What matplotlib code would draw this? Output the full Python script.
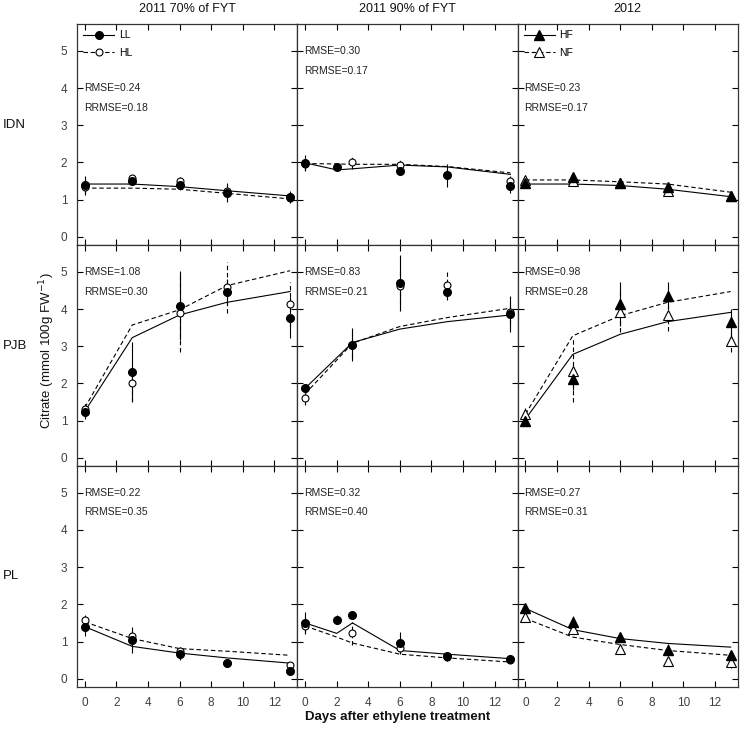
import matplotlib
matplotlib.use('Agg')
import matplotlib.pyplot as plt

plt.rcParams['font.family'] = ['Liberation Sans', 'DejaVu Sans']

# column titles / row labels
col_titles = ['2011 70% of FYT', '2011 90% of FYT', '2012']
row_labels = ['IDN', 'PJB', 'PL']

# IDN, 2011 70% of FYT
idn70_days = [0, 3, 6, 9, 13]
idn70_ll = [1.40, 1.51, 1.40, 1.19, 1.07]
idn70_ll_err = [0.24, 0.12, 0.14, 0.26, 0.16]
idn70_hl = [1.33, 1.57, 1.49, 1.22, 1.05]
idn70_hl_err = [0.20, 0.10, 0.12, 0.20, 0.12]
idn70_ll_sim = [1.42, 1.42, 1.35, 1.24, 1.10]
idn70_hl_sim = [1.31, 1.31, 1.28, 1.17, 1.02]

# IDN, 2011 90% of FYT
idn90_ll_days = [0, 2, 6, 9, 13]
idn90_ll = [1.98, 1.87, 1.77, 1.65, 1.38]
idn90_ll_err = [0.22, 0.05, 0.12, 0.30, 0.20]
idn90_hl_days = [0, 3, 6, 13]
idn90_hl = [1.95, 2.01, 1.93, 1.49]
idn90_hl_err = [0.15, 0.18, 0.18, 0.15]
idn90_sim_days = [0, 2, 3, 6, 9, 13]
idn90_ll_sim = [1.99, 1.80, 1.83, 1.93, 1.88, 1.68]
idn90_hl_sim = [1.97, 1.96, 1.95, 1.95, 1.89, 1.72]

# IDN, 2012
idn12_days = [0, 3, 6, 9, 13]
idn12_hf = [1.46, 1.60, 1.44, 1.35, 1.10]
idn12_hf_err = [0.12, 0.10, 0.12, 0.10, 0.10]
idn12_nf = [1.53, 1.49, 1.44, 1.24, 1.10]
idn12_nf_err = [0.10, 0.08, 0.10, 0.08, 0.08]
idn12_hf_sim = [1.42, 1.42, 1.38, 1.28, 1.08]
idn12_nf_sim = [1.53, 1.53, 1.48, 1.42, 1.20]

# PJB, 2011 70% of FYT
pjb70_days = [0, 3, 6, 9, 13]
pjb70_ll = [1.24, 2.32, 4.09, 4.46, 3.77]
pjb70_ll_err = [0.20, 0.80, 0.92, 0.35, 0.55]
pjb70_hl = [1.30, 2.00, 3.89, 4.58, 4.13]
pjb70_hl_err = [0.15, 0.50, 1.05, 0.68, 0.60]
pjb70_ll_sim = [1.25, 3.23, 3.84, 4.18, 4.47]
pjb70_hl_sim = [1.35, 3.57, 3.98, 4.63, 5.03]

# PJB, 2011 90% of FYT
pjb90_days = [0, 3, 6, 9, 13]
pjb90_ll = [1.87, 3.04, 4.70, 4.45, 3.86]
pjb90_ll_err = [0.10, 0.45, 0.75, 0.20, 0.48]
pjb90_hl = [1.62, 3.02, 4.63, 4.65, 3.91]
pjb90_hl_err = [0.20, 0.30, 0.50, 0.35, 0.30]
pjb90_ll_sim = [1.87, 3.10, 3.46, 3.66, 3.84]
pjb90_hl_sim = [1.72, 3.08, 3.53, 3.77, 4.02]

# PJB, 2012
pjb12_days = [0, 3, 6, 9, 13]
pjb12_hf = [0.99, 2.11, 4.13, 4.36, 3.64]
pjb12_hf_err = [0.05, 0.30, 0.60, 0.36, 0.36]
pjb12_nf = [1.19, 2.34, 3.93, 3.84, 3.14]
pjb12_nf_err = [0.15, 0.85, 0.56, 0.42, 0.30]
pjb12_hf_sim = [1.04, 2.78, 3.32, 3.66, 3.91]
pjb12_nf_sim = [1.17, 3.28, 3.82, 4.18, 4.47]

# PL, 2011 70% of FYT
pl70_days = [0, 3, 6, 9, 13]
pl70_ll = [1.38, 1.05, 0.66, 0.42, 0.22]
pl70_ll_err = [0.22, 0.35, 0.15, 0.08, 0.06]
pl70_hl = [1.59, 1.14, 0.75, 0.42, 0.36]
pl70_hl_err = [0.12, 0.20, 0.10, 0.06, 0.06]
pl70_ll_sim = [1.40, 0.87, 0.69, 0.56, 0.42]
pl70_hl_sim = [1.53, 1.08, 0.81, 0.74, 0.63]

# PL, 2011 90% of FYT
pl90_ll_days = [0, 2, 3, 6, 9, 13]
pl90_ll = [1.50, 1.59, 1.72, 0.97, 0.60, 0.52]
pl90_ll_err = [0.30, 0.12, 0.05, 0.30, 0.12, 0.08]
pl90_hl_days = [0, 3, 6, 9, 13]
pl90_hl = [1.42, 1.22, 0.84, 0.58, 0.50]
pl90_hl_err = [0.20, 0.30, 0.15, 0.08, 0.08]
pl90_sim_days = [0, 2, 3, 6, 9, 13]
pl90_ll_sim = [1.50, 1.22, 1.50, 0.76, 0.66, 0.54]
pl90_hl_sim = [1.42, 1.12, 0.96, 0.66, 0.56, 0.45]

# PL, 2012
pl12_days = [0, 3, 6, 9, 13]
pl12_hf = [1.89, 1.53, 1.12, 0.78, 0.63]
pl12_hf_err = [0.12, 0.15, 0.12, 0.15, 0.10]
pl12_nf = [1.67, 1.35, 0.81, 0.48, 0.45]
pl12_nf_err = [0.10, 0.10, 0.10, 0.10, 0.15]
pl12_hf_sim = [1.89, 1.32, 1.08, 0.95, 0.85]
pl12_nf_sim = [1.62, 1.12, 0.92, 0.76, 0.63]

# RMSE / RRMSE per panel
rmse = [[0.24, 0.30, 0.23], [1.08, 0.83, 0.98], [0.22, 0.32, 0.27]]
rrmse = [[0.18, 0.17, 0.17], [0.30, 0.21, 0.28], [0.35, 0.40, 0.31]]

# (filled days, filled obs, err, open days, open obs, err, sim days, filled sim, open sim)
panels = [
    [(idn70_days, idn70_ll, idn70_ll_err, idn70_days, idn70_hl, idn70_hl_err, idn70_days, idn70_ll_sim, idn70_hl_sim),
     (idn90_ll_days, idn90_ll, idn90_ll_err, idn90_hl_days, idn90_hl, idn90_hl_err, idn90_sim_days, idn90_ll_sim, idn90_hl_sim),
     (idn12_days, idn12_hf, idn12_hf_err, idn12_days, idn12_nf, idn12_nf_err, idn12_days, idn12_hf_sim, idn12_nf_sim)],
    [(pjb70_days, pjb70_ll, pjb70_ll_err, pjb70_days, pjb70_hl, pjb70_hl_err, pjb70_days, pjb70_ll_sim, pjb70_hl_sim),
     (pjb90_days, pjb90_ll, pjb90_ll_err, pjb90_days, pjb90_hl, pjb90_hl_err, pjb90_days, pjb90_ll_sim, pjb90_hl_sim),
     (pjb12_days, pjb12_hf, pjb12_hf_err, pjb12_days, pjb12_nf, pjb12_nf_err, pjb12_days, pjb12_hf_sim, pjb12_nf_sim)],
    [(pl70_days, pl70_ll, pl70_ll_err, pl70_days, pl70_hl, pl70_hl_err, pl70_days, pl70_ll_sim, pl70_hl_sim),
     (pl90_ll_days, pl90_ll, pl90_ll_err, pl90_hl_days, pl90_hl, pl90_hl_err, pl90_sim_days, pl90_ll_sim, pl90_hl_sim),
     (pl12_days, pl12_hf, pl12_hf_err, pl12_days, pl12_nf, pl12_nf_err, pl12_days, pl12_hf_sim, pl12_nf_sim)],
]

fig, axes = plt.subplots(3, 3, figsize=(7.4, 7.3), dpi=100, sharex=True, sharey=True)
fig.subplots_adjust(left=0.104, right=0.997, top=0.967, bottom=0.059, wspace=0, hspace=0)

tick_col = '#404040'
for r in range(3):
    for c in range(3):
        ax = axes[r][c]
        fd, fo, fe, od, oo, oe, sd, fs, osim = panels[r][c]
        mk = 'o' if c < 2 else '^'
        ms_f = 5.5 if c < 2 else 6.5
        ms_o = 5 if c < 2 else 6.5

        # simulated lines
        ax.plot(sd, fs, color='black', lw=0.8, zorder=2)
        ax.plot(sd, osim, color='black', lw=0.8, ls=(0, (4, 2.5)), zorder=2)

        # error bars
        ax.vlines(od, [y - e for y, e in zip(oo, oe)], [y + e for y, e in zip(oo, oe)],
                  colors='black', lw=0.8, linestyles=(0, (4, 2.5)), zorder=3)
        ax.vlines(fd, [y - e for y, e in zip(fo, fe)], [y + e for y, e in zip(fo, fe)],
                  colors='black', lw=0.8, zorder=3)

        # observations
        ax.plot(od, oo, ls='none', marker=mk, ms=ms_o, mfc='white', mec='black', mew=0.8, zorder=4)
        ax.plot(fd, fo, ls='none', marker=mk, ms=ms_f, mfc='black', mec='black', zorder=5)

        ax.set_xlim(-0.5, 13.45)
        ax.set_ylim(-0.22, 5.72)
        ax.set_xticks([0, 2, 4, 6, 8, 10, 12])
        ax.set_yticks([0, 1, 2, 3, 4, 5])
        ax.tick_params(direction='in', top=True, right=True, length=4, width=0.8,
                       labelsize=8.5, labelcolor=tick_col, pad=7)
        for sp in ax.spines.values():
            sp.set_linewidth(0.9)
            sp.set_color('#333333')

        ytxt = 4.0 if (r == 0 and c != 1) else 5.0
        ax.text(-0.05, ytxt, 'RMSE=%.2f' % rmse[r][c], fontsize=7.5, va='center', ha='left', color='#222222')
        ax.text(-0.05, ytxt - 0.53, 'RRMSE=%.2f' % rrmse[r][c], fontsize=7.5, va='center', ha='left', color='#222222')

        if r == 0 and c != 1:
            names = ['LL', 'HL'] if c == 0 else ['HF', 'NF']
            h1, = ax.plot([], [], color='black', lw=0.8, marker=mk, ms=ms_f, mfc='black')
            h2, = ax.plot([], [], color='black', lw=0.8, ls=(0, (4, 2.5)), marker=mk, ms=ms_o,
                          mfc='white', mew=0.8)
            ax.legend([h1, h2], names, loc='upper left', frameon=False, fontsize=7.5,
                      handlelength=3.0, handletextpad=0.4, labelspacing=0.7,
                      borderpad=0.1, borderaxespad=0.5)

    axes[r][0].text(-0.335, 3.0 if r < 2 else 2.75, row_labels[r],
                    transform=axes[r][0].get_yaxis_transform(),
                    fontsize=9.5, ha='left', va='center', color='#111111')

for c in range(3):
    axes[0][c].set_title(col_titles[c], fontsize=9, pad=9, color='#111111')

fig.text(47 / 740, 0.52, 'Citrate (mmol 100g FW$^{-1}$)', rotation=90, fontsize=9.5,
         ha='center', va='center', color='#111111')
fig.text(398 / 740, 1 - 717 / 730, 'Days after ethylene treatment', fontsize=9.5,
         fontweight='bold', ha='center', va='center', color='#111111')

plt.savefig('out.png', dpi=100)
plt.close()
